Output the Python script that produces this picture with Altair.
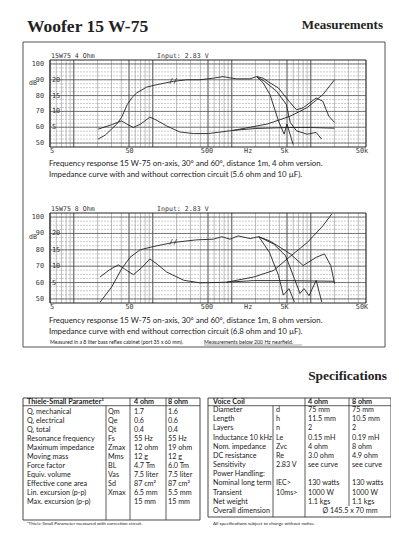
import altair as alt
import pandas as pd

OFF = 8  # page margin: chart coords = page coords - 8
SANS = "Lato"
SERIF = "Liberation Serif"
MONO = "DejaVu Sans Mono"
INK = "#222222"

# ---------------- data: chart 1 (4 ohm) ----------------
c1_shared_f = [20.3, 25, 30, 35, 40, 47.6, 55, 62.6, 83.7, 123, 182, 269, 396, 581, 775, 950, 1153, 1695, 2064]
c1_shared_db = [52.5, 55, 58.8, 62, 66, 74.4, 79, 81.7, 85.4, 87.3, 89, 90, 90, 91, 92, 91.2, 90.6, 90.6, 92]
c1_on_f = [2064, 2500, 3047, 3900, 5300, 6600, 8000, 11700, 14200, 16900, 20000]
c1_on_db = [92, 91, 88, 84.8, 76.4, 71, 72.3, 78.5, 76.4, 67, 63]
c1_30_f = [2064, 2600, 3700, 4900, 5500, 6600, 9000, 11700, 13700]
c1_30_db = [92, 89, 82.7, 74.4, 63, 57.7, 55.6, 56.7, 52.5]
c1_60_f = [2064, 2500, 3047, 3900, 4600, 5000, 5600, 6000]
c1_60_db = [92, 88, 80.6, 64, 55.6, 62, 53.7, 49]
c1_z_f = [20.4, 30, 40.4, 47, 56.7, 70, 92, 110, 150, 220, 327, 505, 1040, 2800, 5500, 9000, 14200, 20000]
c1_z_ohm = [4.4, 5.8, 7.0, 6.0, 4.9, 6.0, 8.2, 7.3, 5.4, 3.5, 3.0, 3.0, 4.0, 6.0, 8.5, 11.2, 15.3, 20.0]
c1_zc_f = [1040, 2000, 5000, 10000, 20000]
c1_zc_ohm = [4.0, 4.6, 4.9, 4.9, 4.7]

# ---------------- data: chart 2 (8 ohm) ----------------
c2_shared_f = [21.5, 30.2, 40.4, 51.5, 68.9, 101.6, 182, 360, 585, 745, 950, 1200, 1700, 2200]
c2_shared_db = [48, 57.3, 68.4, 75.4, 80, 82, 84.5, 86.1, 86.5, 88, 86.5, 88.5, 86.9, 88]
c2_on_f = [2200, 3000, 4100, 5500, 8000, 11700, 14900, 17900, 20000]
c2_on_db = [88, 85.5, 81.5, 77.5, 70.4, 75.4, 77.5, 70.4, 59.3]
c2_30_f = [2200, 3400, 4800, 6200, 7300, 8200, 9500, 11700, 13800]
c2_30_db = [88, 83.5, 76.4, 62.4, 53.3, 56.3, 52, 61.3, 48]
c2_60_f = [2200, 3000, 3900, 4500, 5300, 6200]
c2_60_db = [88, 78.4, 64.4, 52.3, 56.3, 48.2]
c2_z_f = [21.5, 28, 36.6, 45, 56.7, 72, 92, 115, 150, 246, 396, 860, 1900, 3400, 5300, 9000, 14200, 18500]
c2_z_ohm = [6.7, 8.8, 10.4, 9.0, 7.4, 9.5, 12.2, 10.5, 8.2, 5.7, 4.9, 5.1, 6.7, 8.7, 12.7, 17.2, 22.3, 26.0]
c2_zc_f = [860, 1900, 5000, 10000, 20000]
c2_zc_ohm = [5.1, 5.6, 5.6, 5.5, 5.4]

# ---------------- axes / labels ----------------
db_ticks = [100, 90, 80, 70, 60, 50]
ohm_ticks = [20, 15, 10, 5]
x_tick_f = [5, 50, 500, 1700, 5000, 50000]
x_tick_c1 = ["5", "50", "500", "Hz", "5k", "50k"]
x_tick_c2 = ["5", "50", "500", "Hz", "5K", "50K"]
grid_f = [d * 10 ** k for k in range(0, 5) for d in range(1, 10) if 5 <= d * 10 ** k <= 50000]
grid_major_f = [5, 10, 50, 100, 500, 1000, 5000, 10000]
grid_db_minor = [50 + 2.5 * i for i in range(21)]
grid_db_major = [50, 60, 70, 80, 90, 100]

# ---------------- tables ----------------
ts_names = ["Q, mechanical", "Q, electrical", "Q, total", "Resonance frequency", "Maximum impedance",
            "Moving mass", "Force factor", "Equiv. volume", "Effective cone area",
            "Lin. excursion (p-p)", "Max. excursion (p-p)"]
ts_sym = ["Qm", "Qe", "Qt", "Fs", "Zmax", "Mms", "BL", "Vas", "Sd", "Xmax", ""]
ts_4 = ["1.7", "0.6", "0.4", "55 Hz", "12 ohm", "12 g", "4.7 Tm", "7.5 liter", "87 cm²", "6.5 mm", " 15 mm"]
ts_8 = ["1.6", "0.6", "0.4", "55 Hz", "19 ohm", "12 g", "6.0 Tm", "7.5 liter", "87 cm²", "5.5 mm", " 15 mm"]

vc_names = ["Diameter", "Length", "Layers", "Inductance 10 kHz", "Nom. impedance", "DC resistance",
            "Sensitivity", "Power Handling:", "Nominal long term", "Transient", "Net weight",
            "Overall dimension"]
vc_sym = ["d", "h", "n", "Le", "Zvc", "Re", "2.83 V", "", "IEC>", "10ms>", "", ""]
vc_4 = ["75 mm", "11.5 mm", "2", "0.15 mH", "4 ohm", "3.0 ohm", "  see curve", "", "130 watts", "1000 W", "1.1 kgs", ""]
vc_8 = ["75 mm", "10.5 mm", "2", "0.19 mH", "8 ohm", "4.9 ohm", "see curve", "", "130 watts", "1000 W", "1.1 kgs", ""]
vc_overall = "Ø 145.5 x 70 mm"


# ---------------- helpers ----------------
def xs(left=50, right=366):
    return alt.Scale(type="log", domain=[5, 50000], range=[left - OFF, right - OFF], nice=False)


def ys(top, bottom):
    return alt.Scale(domain=[47.5, 102.5], range=[bottom - OFF, top - OFF], nice=False, zero=False)


def zs(top, bottom):
    return alt.Scale(domain=[-1.25, 26.25], range=[bottom - OFF, top - OFF], nice=False, zero=False)


def one():
    return pd.DataFrame({"a": [0]})


def txt(text, x, y, size, font=SANS, weight="normal", align="left", baseline="middle", color=INK):
    return alt.Chart(pd.DataFrame({"t": [text]})).mark_text(
        align=align, baseline=baseline, font=font, fontSize=size, fontWeight=weight, color=color
    ).encode(text="t:N", x=alt.value(x - OFF), y=alt.value(y - OFF))


def hline(x1, x2, y, color="#333", w=0.8):
    return alt.Chart(one()).mark_rule(color=color, strokeWidth=w).encode(
        x=alt.value(x1 - OFF), x2=alt.value(x2 - OFF), y=alt.value(y - OFF))


def vline(x, y1, y2, color="#333", w=0.8):
    return alt.Chart(one()).mark_rule(color=color, strokeWidth=w).encode(
        x=alt.value(x - OFF), y=alt.value(y1 - OFF), y2=alt.value(y2 - OFF))


def box(x1, y1, x2, y2, color="#444", w=1.0):
    return alt.Chart(one()).mark_rect(fillOpacity=0, stroke=color, strokeWidth=w).encode(
        x=alt.value(x1 - OFF), x2=alt.value(x2 - OFF), y=alt.value(y1 - OFF), y2=alt.value(y2 - OFF))


def curves(series, scale_y, top, bottom, width=0.9):
    rows = []
    for name, fs, vs in series:
        for i, (f, v) in enumerate(zip(fs, vs)):
            rows.append({"s": name, "f": f, "v": v, "o": i})
    return alt.Chart(pd.DataFrame(rows)).mark_line(color=INK, strokeWidth=width).encode(
        x=alt.X("f:Q", scale=xs(), axis=None),
        y=alt.Y("v:Q", scale=scale_y(top, bottom), axis=None),
        detail="s:N", order="o:Q")


def col(texts, x, y0, y1, size=7.2, weight="normal", align="left"):
    df = pd.DataFrame({"r": list(range(len(texts))), "t": texts})
    return alt.Chart(df).mark_text(align=align, baseline="middle", font=SANS, fontSize=size,
                                   fontWeight=weight, color=INK).encode(
        x=alt.value(x - OFF),
        y=alt.Y("r:Q", scale=alt.Scale(domain=[0, len(texts) - 1], range=[y0 - OFF, y1 - OFF],
                                        nice=False, zero=False), axis=None),
        text="t:N")


def plot_panel(top, bottom, header, xlabels, spl, imp, brk_db):
    L, R = 50, 366
    lay = []
    minor_f = [f for f in grid_f if f not in grid_major_f]
    lay.append(alt.Chart(pd.DataFrame({"f": minor_f})).mark_rule(color="#8a8a8a", strokeWidth=0.55).encode(
        x=alt.X("f:Q", scale=xs(), axis=None), y=alt.value(top - OFF), y2=alt.value(bottom - OFF)))
    lay.append(alt.Chart(pd.DataFrame({"f": grid_major_f})).mark_rule(color="#3a3a3a", strokeWidth=0.9).encode(
        x=alt.X("f:Q", scale=xs(), axis=None), y=alt.value(top - OFF), y2=alt.value(bottom - OFF)))
    lay.append(alt.Chart(pd.DataFrame({"v": grid_db_minor})).mark_rule(
        color="#999", strokeWidth=0.5, strokeDash=[2, 1]).encode(
        y=alt.Y("v:Q", scale=ys(top, bottom), axis=None), x=alt.value(L - OFF), x2=alt.value(R - OFF)))
    lay.append(alt.Chart(pd.DataFrame({"v": grid_db_major})).mark_rule(color="#4a4a4a", strokeWidth=0.7).encode(
        y=alt.Y("v:Q", scale=ys(top, bottom), axis=None), x=alt.value(L - OFF), x2=alt.value(R - OFF)))
    lay.append(box(L, top, R, bottom, color="#222", w=1.0))
    lay.append(curves(spl, ys, top, bottom))
    lay.append(curves(imp, zs, top, bottom))
    # break marks on the SPL curve
    lay.append(alt.Chart(pd.DataFrame({"f": [182], "v": [brk_db], "t": ["//"]})).mark_text(
        font=MONO, fontSize=7, color=INK, baseline="middle").encode(
        x=alt.X("f:Q", scale=xs(), axis=None), y=alt.Y("v:Q", scale=ys(top, bottom), axis=None), text="t:N"))
    # y tick labels (dB)
    lay.append(alt.Chart(pd.DataFrame({"v": db_ticks, "t": [str(v) for v in db_ticks]})).mark_text(
        font=MONO, fontSize=6.8, color="#333", align="right", baseline="middle").encode(
        y=alt.Y("v:Q", scale=ys(top, bottom), axis=None), x=alt.value(44 - OFF), text="t:N"))
    # impedance labels inside plot
    lay.append(alt.Chart(pd.DataFrame({"v": ohm_ticks, "t": [str(v) for v in ohm_ticks]})).mark_text(
        font=MONO, fontSize=6.8, color="#333", align="left", baseline="middle").encode(
        y=alt.Y("v:Q", scale=zs(top, bottom), axis=None), x=alt.value(52 - OFF), text="t:N"))
    # x tick labels
    lay.append(alt.Chart(pd.DataFrame({"f": x_tick_f, "t": xlabels})).mark_text(
        font=MONO, fontSize=6.8, color="#333", align="center", baseline="top").encode(
        x=alt.X("f:Q", scale=xs(52, 362), axis=None), y=alt.value(bottom + 1 - OFF), text="t:N"))
    lay.append(txt("dB", 29, top + (bottom - top) * 0.27, 6.5, font=MONO, color="#333"))
    lay.append(txt(header, 51, top - 4, 6.6, font=MONO, color="#333"))
    lay.append(txt("Input: 2.83 V", 157, top - 4, 6.6, font=MONO, color="#333"))
    return lay


layers = []
# titles
layers.append(txt("Woofer 15 W-75", 27, 32, 17.5, font=SERIF, weight="bold", baseline="alphabetic"))
layers.append(txt("Measurements", 383, 29, 13, font=SERIF, weight="bold", align="right", baseline="alphabetic"))
layers.append(box(23, 42, 385, 347, color="#555", w=1.0))

spl1 = [("on", c1_shared_f + c1_on_f, c1_shared_db + c1_on_db), ("30", c1_30_f, c1_30_db), ("60", c1_60_f, c1_60_db)]
imp1 = [("z", c1_z_f, c1_z_ohm), ("zc", c1_zc_f, c1_zc_ohm)]
layers += plot_panel(60, 147, "15W75 4 Ohm", x_tick_c1, spl1, imp1, 89)
layers.append(txt("Frequency response 15 W-75 on-axis, 30° and 60°, distance 1m, 4 ohm version.", 49, 164, 7.85))
layers.append(txt("Impedance  curve with and without correction circuit (5.6 ohm and 10 µF).", 49, 175, 7.85))

spl2 = [("on", c2_shared_f + c2_on_f, c2_shared_db + c2_on_db), ("30", c2_30_f, c2_30_db), ("60", c2_60_f, c2_60_db)]
imp2 = [("z", c2_z_f, c2_z_ohm), ("zc", c2_zc_f, c2_zc_ohm)]
layers += plot_panel(213, 303, "15W75 8 Ohm", x_tick_c2, spl2, imp2, 84.5)
layers.append(txt("Frequency response 15 W-75 on-axis, 30° and 60°, distance 1m, 8 ohm version.", 49, 321, 7.85))
layers.append(txt("Impedance  curve with end without correction circuit (6.8 ohm and 10 µF).", 49, 331.5, 7.85))
layers.append(txt("Measured in a 8 liter bass reflex cabinet (port 35 x 60 mm).", 50, 342, 5.2))
layers.append(txt("Measurements below 200 Hz nearfield.", 204, 342, 5.2))
layers.append(hline(204, 302, 345, color="#555", w=0.5))

layers.append(txt("Specifications", 387, 380, 13.4, font=SERIF, weight="bold", align="right", baseline="alphabetic"))

# left table
layers.append(box(23, 398, 200, 520, color="#333", w=0.9))
layers.append(hline(23, 200, 405.7))
layers.append(vline(106, 405.7, 520))
layers.append(vline(130, 398, 520))
layers.append(vline(166, 398, 520))
layers.append(txt("Thiele-Small Parameter¹", 27, 401.8, 7.2, weight="bold"))
layers.append(txt("4 ohm", 134, 401.8, 7.2, weight="bold"))
layers.append(txt("8 ohm", 168, 401.8, 7.2, weight="bold"))
layers.append(col(ts_names, 27, 411.7, 501.7))
layers.append(col(ts_sym, 108, 411.7, 501.7))
layers.append(col(ts_4, 134, 411.7, 501.7))
layers.append(col(ts_8, 168, 411.7, 501.7))
layers.append(txt("¹Thiele-Small Parameter measured with correction circuit.", 27, 524, 4.6))

# right table
layers.append(box(208, 398, 391, 517, color="#333", w=0.9))
layers.append(hline(208, 391, 405.7))
layers.append(vline(273, 405.7, 517))
layers.append(vline(305, 398, 517))
layers.append(vline(349, 398, 506))
layers.append(txt("Voice Coil", 213, 401.8, 7.2, weight="bold"))
layers.append(txt("4 ohm", 308, 401.8, 7.2, weight="bold"))
layers.append(txt("8 ohm", 352, 401.8, 7.2, weight="bold"))
layers.append(col(vc_names, 213, 410, 511))
layers.append(col(vc_sym, 276, 410, 511))
layers.append(col(vc_4, 308, 410, 511))
layers.append(col(vc_8, 352, 410, 511))
layers.append(txt(vc_overall, 350, 511, 7.2, align="center"))
layers.append(txt("All specifications subject to change without notice.", 213, 524, 4.6))

chart = alt.layer(*layers).resolve_scale(x="independent", y="independent").properties(
    width=383, height=518, autosize=alt.AutoSizeParams(type="none"), padding=0
).configure_view(stroke=None)

chart.save("out.html", embed_options={"renderer": "svg", "actions": False})
